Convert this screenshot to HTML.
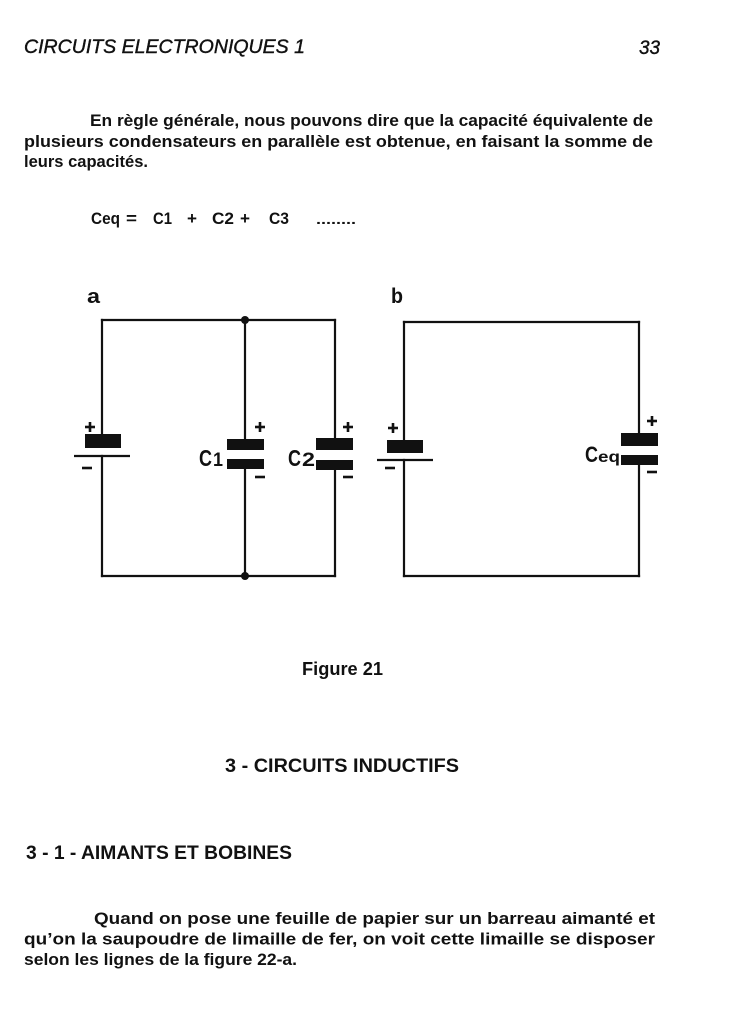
<!DOCTYPE html>
<html>
<head>
<meta charset="utf-8">
<style>
  html, body { margin: 0; padding: 0; background: #ffffff; }
  body { width: 739px; height: 1024px; overflow: hidden; }
  svg { display: block; }
  .b { font-family: "Liberation Sans", "DejaVu Sans", sans-serif; font-weight: bold; fill: #111; }
  .h { font-family: "Liberation Sans", "DejaVu Sans", sans-serif; font-style: italic; fill: #111; }
</style>
</head>
<body>
<svg width="739" height="1024" viewBox="0 0 739 1024" xmlns="http://www.w3.org/2000/svg">
  <rect width="739" height="1024" fill="#fff"/>

  <!-- Header -->
  <text class="h" x="24" y="53" font-size="19" textLength="281" lengthAdjust="spacingAndGlyphs" stroke="#111" stroke-width="0.4">CIRCUITS ELECTRONIQUES 1</text>
  <text class="h" x="639" y="54" font-size="19" textLength="21" lengthAdjust="spacingAndGlyphs" stroke="#111" stroke-width="0.4">33</text>

  <!-- Paragraph 1 -->
  <text class="b" x="90" y="126" font-size="17" textLength="563" lengthAdjust="spacingAndGlyphs">En règle générale, nous pouvons dire que la capacité équivalente de</text>
  <text class="b" x="24" y="147" font-size="17" textLength="629" lengthAdjust="spacingAndGlyphs">plusieurs condensateurs en parallèle est obtenue, en faisant la somme de</text>
  <text class="b" x="24" y="167" font-size="17" textLength="124" lengthAdjust="spacingAndGlyphs">leurs capacités.</text>

  <!-- Equation -->
  <text class="b" x="91" y="224" font-size="17" textLength="29" lengthAdjust="spacingAndGlyphs">Ceq</text>
  <text class="b" x="126" y="224" font-size="17" textLength="11" lengthAdjust="spacingAndGlyphs">=</text>
  <text class="b" x="153" y="224" font-size="17" textLength="19" lengthAdjust="spacingAndGlyphs">C1</text>
  <text class="b" x="187" y="224" font-size="17" textLength="10" lengthAdjust="spacingAndGlyphs">+</text>
  <text class="b" x="212" y="224" font-size="17" textLength="22" lengthAdjust="spacingAndGlyphs">C2</text>
  <text class="b" x="240" y="224" font-size="17" textLength="10" lengthAdjust="spacingAndGlyphs">+</text>
  <text class="b" x="269" y="224" font-size="17" textLength="20" lengthAdjust="spacingAndGlyphs">C3</text>
  <text class="b" x="316" y="224" font-size="14" textLength="40" lengthAdjust="spacingAndGlyphs">........</text>

  <!-- Circuit a -->
  <text class="b" x="87" y="303" font-size="20" textLength="13" lengthAdjust="spacingAndGlyphs">a</text>
  <g stroke="#111" stroke-width="2.2" fill="none" stroke-linecap="square">
    <line x1="102" y1="320" x2="335" y2="320"/>
    <line x1="102" y1="576" x2="335" y2="576"/>
    <line x1="102" y1="320" x2="102" y2="434"/>
    <line x1="102" y1="456" x2="102" y2="576"/>
    <line x1="74" y1="456" x2="130" y2="456" stroke-linecap="butt"/>
    <line x1="245" y1="320" x2="245" y2="439"/>
    <line x1="245" y1="469" x2="245" y2="576"/>
    <line x1="335" y1="320" x2="335" y2="438"/>
    <line x1="335" y1="470" x2="335" y2="576"/>
  </g>
  <g fill="#111">
    <rect x="85" y="434" width="36" height="14"/>
    <rect x="227" y="439" width="37" height="11"/>
    <rect x="227" y="459" width="37" height="10"/>
    <rect x="316" y="438" width="37" height="12"/>
    <rect x="316" y="460" width="37" height="10"/>
    <circle cx="245" cy="320" r="4"/>
    <circle cx="245" cy="576" r="4"/>
  </g>
  <g stroke="#111" stroke-width="2.6" fill="none">
    <line x1="85" y1="427" x2="95" y2="427"/><line x1="90" y1="422" x2="90" y2="432"/>
    <line x1="82" y1="468" x2="92" y2="468"/>
    <line x1="255" y1="427" x2="265" y2="427"/><line x1="260" y1="422" x2="260" y2="432"/>
    <line x1="255" y1="477" x2="265" y2="477"/>
    <line x1="343" y1="427" x2="353" y2="427"/><line x1="348" y1="422" x2="348" y2="432"/>
    <line x1="343" y1="477" x2="353" y2="477"/>
  </g>
  <text class="b" x="199" y="466" font-size="23" textLength="13" lengthAdjust="spacingAndGlyphs">C</text>
  <text class="b" x="213" y="466" font-size="19" textLength="10" lengthAdjust="spacingAndGlyphs">1</text>
  <text class="b" x="288" y="466" font-size="23" textLength="13" lengthAdjust="spacingAndGlyphs">C</text>
  <text class="b" x="302" y="466" font-size="19" textLength="13" lengthAdjust="spacingAndGlyphs">2</text>

  <!-- Circuit b -->
  <text class="b" x="391" y="303" font-size="21" textLength="12" lengthAdjust="spacingAndGlyphs">b</text>
  <g stroke="#111" stroke-width="2.2" fill="none" stroke-linecap="square">
    <line x1="404" y1="322" x2="639" y2="322"/>
    <line x1="404" y1="576" x2="639" y2="576"/>
    <line x1="404" y1="322" x2="404" y2="440"/>
    <line x1="404" y1="460" x2="404" y2="576"/>
    <line x1="377" y1="460" x2="433" y2="460" stroke-linecap="butt"/>
    <line x1="639" y1="322" x2="639" y2="433"/>
    <line x1="639" y1="465" x2="639" y2="576"/>
  </g>
  <g fill="#111">
    <rect x="387" y="440" width="36" height="13"/>
    <rect x="621" y="433" width="37" height="13"/>
  </g>
  <g stroke="#111" stroke-width="2.6" fill="none">
    <line x1="388" y1="428" x2="398" y2="428"/><line x1="393" y1="423" x2="393" y2="433"/>
    <line x1="385" y1="468" x2="395" y2="468"/>
    <line x1="647" y1="421" x2="657" y2="421"/><line x1="652" y1="416" x2="652" y2="426"/>
    <line x1="647" y1="472" x2="657" y2="472"/>
  </g>
  <text class="b" x="585" y="462" font-size="22" textLength="13" lengthAdjust="spacingAndGlyphs">C</text>
  <text class="b" x="598" y="462" font-size="16" textLength="22" lengthAdjust="spacingAndGlyphs">eq</text>
  <rect x="621" y="455" width="37" height="10" fill="#111"/>

  <!-- Figure caption -->
  <text class="b" x="302" y="675" font-size="18" textLength="81" lengthAdjust="spacingAndGlyphs">Figure 21</text>

  <!-- Section heading -->
  <text class="b" x="225" y="772" font-size="19" textLength="234" lengthAdjust="spacingAndGlyphs">3 - CIRCUITS INDUCTIFS</text>

  <!-- Subsection heading -->
  <text class="b" x="26" y="859" font-size="19" textLength="266" lengthAdjust="spacingAndGlyphs">3 - 1 - AIMANTS ET BOBINES</text>

  <!-- Paragraph 2 -->
  <text class="b" x="94" y="924" font-size="17" textLength="561" lengthAdjust="spacingAndGlyphs">Quand on pose une feuille de papier sur un barreau aimanté et</text>
  <text class="b" x="24" y="944.5" font-size="17" textLength="631" lengthAdjust="spacingAndGlyphs">qu’on la saupoudre de limaille de fer, on voit cette limaille se disposer</text>
  <text class="b" x="24" y="965" font-size="17" textLength="273" lengthAdjust="spacingAndGlyphs">selon les lignes de la figure 22-a.</text>
</svg>
</body>
</html>
